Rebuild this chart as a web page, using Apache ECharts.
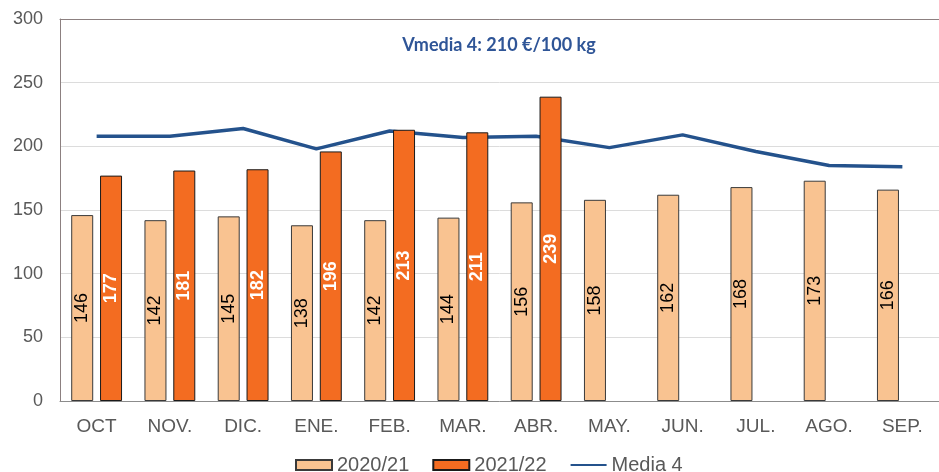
<!DOCTYPE html>
<html>
<head>
<meta charset="utf-8">
<script src="https://cdn.jsdelivr.net/npm/echarts@6/dist/echarts.min.js"></script>
<style>html,body{margin:0;padding:0;background:#fff}#c{width:939px;height:472px}</style>
</head>
<body>
<div id="c"></div>
<script>
const categories = ['OCT','NOV.','DIC.','ENE.','FEB.','MAR.','ABR.','MAY.','JUN.','JUL.','AGO.','SEP.'];
const s2021 = [146,142,145,138,142,144,156,158,162,168,173,166];
const s2122 = [177,181,182,196,213,211,239,null,null,null,null,null];
const media4 = [208,208,214,198,212,207,208,199,209,196,185,184];
const seriesNames = ['2020/21','2021/22','Media 4'];
const titleText = 'Vmedia 4: 210 €/100 kg';

const chart = echarts.init(document.getElementById('c'), null, {renderer:'canvas'});
const FONT = 'Liberation Sans, Arial, sans-serif';
chart.setOption({
  animation: false,
  backgroundColor: '#fff',
  title: {
    text: titleText, left: 494, top: 31, textAlign: 'center',
    textStyle: {fontFamily: 'Lato, sans-serif', fontWeight: 'bold', fontSize: 18, color: '#2F5597'}
  },
  legend: {
    bottom: -3, left: 295, padding: 0,
    itemWidth: 36, itemHeight: 10, itemGap: 23,
    textStyle: {fontFamily: FONT, fontSize: 20, color: '#595959'},
    data: [
      {name: seriesNames[0], icon: 'rect'},
      {name: seriesNames[1], icon: 'rect'},
      {name: seriesNames[2], itemStyle: {opacity: 0}}
    ]
  },
  grid: {left: 60, right: 0, top: 19, bottom: 71},
  xAxis: [{
    type: 'category', data: categories,
    axisLine: {lineStyle: {color: '#8c8c8c', width: 1}},
    axisTick: {show: false},
    axisLabel: {fontFamily: FONT, fontSize: 19, color: '#595959', margin: 16}
  }, {
    type: 'category', data: categories, position: 'top',
    axisLine: {show: true, onZero: false, lineStyle: {color: '#8c8080', width: 1}},
    axisTick: {show: false}, axisLabel: {show: false}
  }],
  yAxis: {
    type: 'value', min: 0, max: 300, interval: 50,
    axisLine: {show: true, lineStyle: {color: '#8c8080', width: 1}},
    axisTick: {show: false},
    splitLine: {lineStyle: {color: '#dcdcdc', width: 1}},
    axisLabel: {fontFamily: FONT, fontSize: 18, color: '#595959', margin: 17}
  },
  series: [{
    name: seriesNames[0], type: 'bar', data: s2021, barWidth: 22, barGap: '31%', z: 3,
    itemStyle: {color: '#F9C391', borderColor: '#3a3a3a', borderWidth: 1},
    label: {show: true, position: 'inside', rotate: 90, fontFamily: FONT, fontSize: 18, color: '#000'}
  }, {
    name: seriesNames[1], type: 'bar', data: s2122, barWidth: 22, z: 3,
    itemStyle: {color: '#F36C21', borderColor: '#1a1a1a', borderWidth: 1},
    label: {show: true, position: 'inside', rotate: 90, fontFamily: FONT, fontSize: 18, fontWeight: 'bold', color: '#fff'}
  }, {
    name: seriesNames[2], type: 'line', data: media4, z: 2,
    symbol: 'none', showSymbol: false,
    lineStyle: {color: '#24528C', width: 3.5},
    itemStyle: {color: '#24528C'}
  }]
});
</script>
</body>
</html>
